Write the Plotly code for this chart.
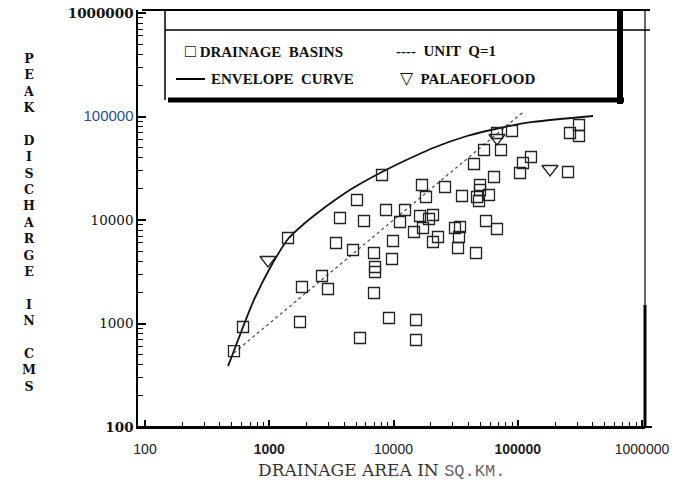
import plotly.graph_objects as go

# ---------------- data ----------------
basin_area = [520, 615, 1416, 1834, 1768, 2658, 2970, 3445, 3710, 4721,
              5085, 5375, 5789, 6967, 7099, 7099, 6967, 8080, 8702, 9200,
              9725, 9908, 11280, 12380, 14620, 15180, 15180, 16950, 18260, 25970,
              16350, 20790, 19310, 17280, 20790, 22810, 31260, 34300, 33670, 33050,
              35590, 44460, 46130, 46990, 48770, 49690, 49690, 53520, 55540, 58690,
              64410, 68080, 68080, 73330, 89900, 104300, 110200, 127800, 253800, 263400,
              311200, 311200]
basin_q = [542, 925, 6700, 2253, 1034, 2876, 2154, 5995, 10450, 5130,
           15600, 724, 9780, 4800, 3515, 3145, 1971, 27210, 12490, 1130,
           4200, 6268, 9565, 12490, 7657, 1081, 693, 21790, 16680, 20830,
           10930, 11180, 10230, 8370, 6130, 6850, 8370, 8560, 6850, 5363,
           17060, 34760, 4800, 16680, 15260, 21790, 19490, 47470, 9780, 17440,
           26030, 8185, 69270, 47470, 72420, 28450, 35540, 40620, 29090, 69270,
           82800, 64800]

palaeo_area = [977, 68080, 181800]
palaeo_q = [4108, 61990, 31110]

env_area = [466, 615, 740, 1014, 1416, 1940, 2562, 3382, 4721, 8080,
            11280, 20790, 39040, 71970, 132700, 403300]
env_q = [388, 925, 1613, 3437, 6553, 9354, 12220, 15600, 20380, 29090,
         35540, 49630, 64800, 77430, 88520, 101100]

unit_area = [520, 112000]
unit_q = [520, 112000]

x_tickvals = [100, 1000, 10000, 100000, 1000000]
x_ticktext = ["100", "<b>1000</b>", "10000", "<b>100000</b>", "1000000"]
y_tickvals = [100, 1000, 10000, 100000, 1000000]
y_ticktext = ["<b>100</b>", "1000", "10000",
              "<span style='font-family:Liberation Sans;color:#2a4d9a;font-size:15px'>100000</span>",
              "<b>1000000</b>"]

minor_vals = [m * 10 ** e for e in range(2, 6) for m in range(2, 10)]

# ---------------- layout geometry ----------------
W, H = 687, 480
L, R, T, B = 138, 42, 10, 53
PW, PH = W - L - R, H - T - B


def X(px):
    return (px - L) / PW


def Y(py):
    return (H - B - py) / PH


fig = go.Figure()
fig.add_trace(go.Scatter(x=env_area, y=env_q, mode="lines",
                         line=dict(color="#111", width=1.8, shape="spline", smoothing=0.8),
                         showlegend=False))
fig.add_trace(go.Scatter(x=unit_area, y=unit_q, mode="lines",
                         line=dict(color="#555", width=1.3, dash="3px,3px"),
                         showlegend=False))
fig.add_trace(go.Scatter(x=basin_area, y=basin_q, mode="markers",
                         marker=dict(symbol="square-open", size=11,
                                     line=dict(width=1.3, color="#222"), color="#222"),
                         showlegend=False))
fig.add_trace(go.Scatter(x=palaeo_area, y=palaeo_q, mode="markers",
                         marker=dict(symbol="triangle-down-open", size=14,
                                     line=dict(width=1.3, color="#222"), color="#222"),
                         showlegend=False))

axis_common = dict(type="log", showline=True, linecolor="black", linewidth=1.5,
                   ticks="inside", tickcolor="black", showgrid=False, zeroline=False,
                   mirror=False, automargin=False)

fig.update_layout(
    width=W, height=H,
    margin=dict(l=L, r=R, t=T, b=B, autoexpand=False),
    paper_bgcolor="white", plot_bgcolor="white",
    xaxis=dict(**axis_common, range=[2 - 7 / 124.25, 2 + 500 / 124.25],
               tickvals=x_tickvals, ticktext=x_ticktext, ticklen=7, tickwidth=1.5,
               tickfont=dict(family="Liberation Sans", size=14, color="#222"),
               ticklabelstandoff=8,
               minor=dict(ticks="inside", ticklen=5, tickvals=minor_vals,
                          tickcolor="black", tickwidth=1.2, showgrid=False)),
    yaxis=dict(**axis_common, range=[2, 6 + 3 / 103.5],
               tickvals=y_tickvals, ticktext=y_ticktext, ticklen=8, tickwidth=1.5,
               tickfont=dict(family="DejaVu Serif", size=13.5, color="#111"),
               minor=dict(ticks="inside", ticklen=5, tickvals=minor_vals,
                          tickcolor="black", tickwidth=1.2, showgrid=False)),
)

shapes = []


def seg(x0, y0, x1, y1, w, c="black"):
    shapes.append(dict(type="line", xref="paper", yref="paper",
                       x0=X(x0), y0=Y(y0), x1=X(x1), y1=Y(y1),
                       line=dict(color=c, width=w)))


seg(142, 10, 650, 10, 2)        # top line
seg(165, 30, 650, 30, 1.5)      # legend box inner top
seg(165, 11, 165, 100, 1.5)     # legend box left
seg(168, 100, 624, 100, 5)      # legend box thick bottom
seg(620, 10, 620, 104, 6)       # legend box thick right
seg(645, 10, 645, 305, 1.2)     # right frame thin
seg(645, 305, 645, 427, 3)      # right frame thick
seg(138, 427, 652, 427, 2)      # x axis extension
seg(176, 79, 205, 79, 2)        # envelope legend line
fig.update_layout(shapes=shapes)

leg_font = dict(family="Liberation Serif", size=15, color="#111")
ann = []


def txt(px, py, s, font, xanchor="left", yanchor="middle"):
    ann.append(dict(x=X(px), y=Y(py), xref="paper", yref="paper", text=s,
                    showarrow=False, xanchor=xanchor, yanchor=yanchor, font=font))


txt(183, 51, "<span style='font-size:18px'>□</span> <b>DRAINAGE  BASINS</b>", leg_font)
txt(394, 51, "<b>----  UNIT  Q=1</b>", leg_font)
txt(209, 79, "<b>ENVELOPE  CURVE</b>", leg_font)
txt(398, 79, "<span style='font-size:17px'>▽</span>  <b>PALAEOFLOOD</b>", leg_font)

letters = "PEAK DISCHARGE IN CMS"
ylab = "<br>".join(("<b>%s</b>" % ch) if ch != " " else " " for ch in letters)
txt(29, 223, ylab, dict(family="DejaVu Serif", size=12.6, color="#111"), xanchor="center")

txt(381, 470, "DRAINAGE AREA IN <span style='font-family:Liberation Mono;color:#666;font-size:17px'>SQ.KM.</span>",
    dict(family="DejaVu Serif", size=17, color="#333"), xanchor="center")

fig.update_layout(annotations=ann)
fig.write_html("out.html")
